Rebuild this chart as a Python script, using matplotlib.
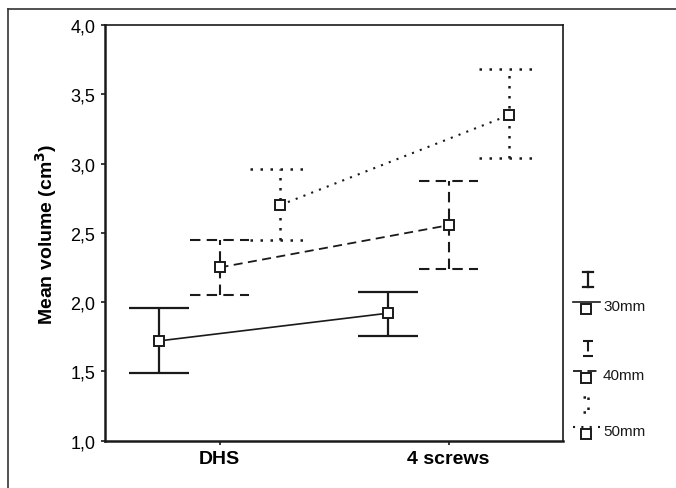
import numpy as np
import matplotlib.pyplot as plt
from matplotlib.lines import Line2D

plt.rcParams['font.family'] = ['Liberation Sans', 'DejaVu Sans']

categories = ['DHS', '4 screws']
series = ['30mm', '40mm', '50mm']
mean_30 = [1.72, 1.92]
low_30 = [1.49, 1.755]
high_30 = [1.96, 2.075]
mean_40 = [2.25, 2.555]
low_40 = [2.05, 2.24]
high_40 = [2.445, 2.875]
mean_50 = [2.70, 3.35]
low_50 = [2.445, 3.04]
high_50 = [2.96, 3.68]
yticks = [1.0, 1.5, 2.0, 2.5, 3.0, 3.5, 4.0]

col = '#1a1a1a'
styles = ['-', (0, (5, 3)), (0, (1, 3))]
bar_lw = [1.6, 1.5, 1.8]
line_lw = [1.2, 1.3, 1.5]
offsets = [-0.265, 0.0, 0.265]
means = [mean_30, mean_40, mean_50]
lows = [low_30, low_40, low_50]
highs = [high_30, high_40, high_50]

fig = plt.figure(figsize=(6.76, 4.89), dpi=100)
ax = fig.add_axes([105 / 676, 1 - 441.7 / 489, 458 / 676, (441.7 - 26) / 489])

x = np.arange(len(categories))
half = 0.13
for m, lo, hi, ls, off, blw, llw in zip(means, lows, highs, styles, offsets, bar_lw, line_lw):
    xs = x + off
    ax.vlines(xs, lo, hi, colors=col, linestyles=[ls], linewidth=blw)
    ax.hlines(lo, xs - half, xs + half, colors=col, linestyles=[ls], linewidth=blw)
    ax.hlines(hi, xs - half, xs + half, colors=col, linestyles=[ls], linewidth=blw)
    ax.plot(xs, m, linestyle=ls, color=col, linewidth=llw, marker='s',
            markersize=6.5, markerfacecolor='white', markeredgecolor=col,
            markeredgewidth=1.4)

ax.set_xlim(-0.5, 1.5)
ax.set_ylim(1.0, 4.0)
ax.set_yticks(yticks)
ax.set_yticklabels([f'{v:.1f}'.replace('.', ',') for v in yticks], fontsize=13)
ax.set_xticks(x)
ax.set_xticklabels(categories, fontsize=14, fontweight='bold')
ax.tick_params(direction='out', length=3, width=1.2, color=col, pad=4)
ax.set_ylabel('Mean volume (cm$^\\mathbf{3}$)', fontsize=14, fontweight='bold', labelpad=8)
for s in ['left', 'bottom']:
    ax.spines[s].set_linewidth(1.8)
for s in ['top', 'right']:
    ax.spines[s].set_linewidth(1.2)
for s in ax.spines.values():
    s.set_color(col)

# legend area in pixel coordinates
lg = fig.add_axes([0, 0, 1, 1], facecolor='none')
lg.set_xlim(0, 676)
lg.set_ylim(489, 0)
lg.axis('off')
leg_rows = [273, 342, 398]
for lab, ls, top, blw, llw in zip(series, styles, leg_rows, bar_lw, line_lw):
    bot = top + 15
    lg.plot([588, 588], [top, bot], linestyle=ls, color=col, linewidth=blw)
    lg.plot([583, 593], [top, top], linestyle=ls, color=col, linewidth=blw)
    lg.plot([583, 593], [bot, bot], linestyle=ls, color=col, linewidth=blw)
    ly = bot + 15
    lg.plot([573, 600], [ly, ly], linestyle=ls, color=col, linewidth=llw)
    lg.plot([586], [ly + 7], marker='s', markersize=6.5, markerfacecolor='white',
            markeredgecolor=col, markeredgewidth=1.4, linestyle='none')
    lg.text(603, ly + 4, lab, fontsize=11, va='center', ha='left', color=col)

# outer frame: top and left edges
fig.add_artist(Line2D([8 / 676, 1], [1 - 10 / 489, 1 - 10 / 489], color='#333333', linewidth=1.2))
fig.add_artist(Line2D([8 / 676, 8 / 676], [0, 1 - 10 / 489], color='#333333', linewidth=1.2))

fig.savefig('out.png', dpi=100)
